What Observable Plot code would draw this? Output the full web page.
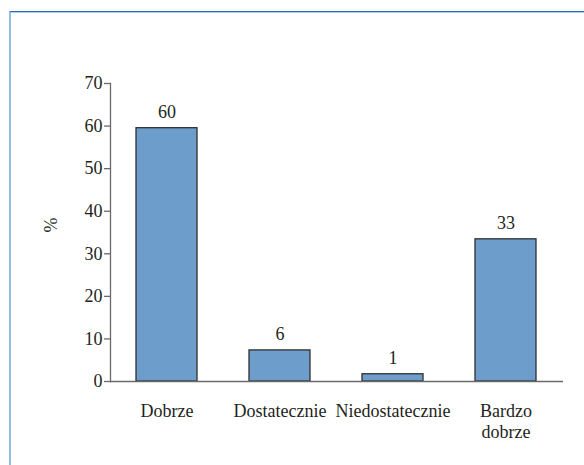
<!DOCTYPE html>
<html>
<head>
<meta charset="utf-8">
<script src="https://cdn.jsdelivr.net/npm/d3@7"></script>
<script src="https://cdn.jsdelivr.net/npm/@observablehq/plot@0.6"></script>
<style>
  html, body { margin: 0; padding: 0; background: #fff; font-family: "Liberation Serif", serif; }
  #wrap { position: relative; width: 584px; height: 465px; overflow: hidden; }
  #wrap svg { display: block; }
  #border {
    position: absolute; left: 9px; top: 11px; right: 0; bottom: 0;
    border-top: 1px solid #2f6eae;
    border-left: 2px solid #93bfe3;
    pointer-events: none;
  }
  #border2 {
    position: absolute; left: 11px; top: 12px; right: 0; height: 0;
    border-top: 1px solid #a9cdea;
    pointer-events: none;
  }
</style>
</head>
<body>
<div id="wrap"></div>
<script>
const categories = ["Dobrze", "Dostatecznie", "Niedostatecznie", "Bardzo\ndobrze"];
const barValues = [59.5, 7.3, 1.7, 33.4];
const valueLabels = ["60", "6", "1", "33"];
const yTicks = [0, 10, 20, 30, 40, 50, 60, 70];
const yLabel = "%";

const data = categories.map((c, i) => ({cat: c, value: barValues[i], label: valueLabels[i]}));
const serif = "'Liberation Serif', 'Times New Roman', Times, serif";

const chart = Plot.plot({
  width: 584,
  height: 465,
  marginLeft: 110,
  marginRight: 21,
  marginTop: 83,
  marginBottom: 84,
  style: {fontSize: "18px", fontFamily: serif, color: "#231f20", background: "transparent", overflow: "visible"},
  x: {domain: categories, paddingInner: 0.46, paddingOuter: 0.23, axis: null},
  y: {domain: [0, 70], axis: null},
  marks: [
    Plot.barY(data, {x: "cat", y: "value", fill: "#6d9ecb", stroke: "#2e2e2e", strokeWidth: 1.3}),
    Plot.ruleY([0], {stroke: "#6a6a6a", strokeWidth: 1.3}),
    Plot.frame({anchor: "left", stroke: "#6a6a6a", strokeWidth: 1.3}),
    Plot.axisY({ticks: yTicks, tickSize: 6, tickPadding: 2, stroke: "#6a6a6a", strokeWidth: 1.3, fontSize: 18, label: null}),
    Plot.axisX({tickSize: 0, tickPadding: 21, label: null, lineHeight: 1.15, fontSize: 18}),
    Plot.text(data, {x: "cat", y: "value", text: "label", dy: -16, lineAnchor: "middle", fontSize: 18}),
    Plot.text([yLabel], {frameAnchor: "left", dx: -59, rotate: -90, fontSize: 18})
  ]
});
const wrap = document.getElementById("wrap");
wrap.appendChild(chart);
d3.select(chart).selectAll("text, tspan, g")
  .attr("font-family", serif)
  .style("font-family", serif);
const b = document.createElement("div"); b.id = "border"; wrap.appendChild(b);
const b2 = document.createElement("div"); b2.id = "border2"; wrap.appendChild(b2);
</script>
</body>
</html>
